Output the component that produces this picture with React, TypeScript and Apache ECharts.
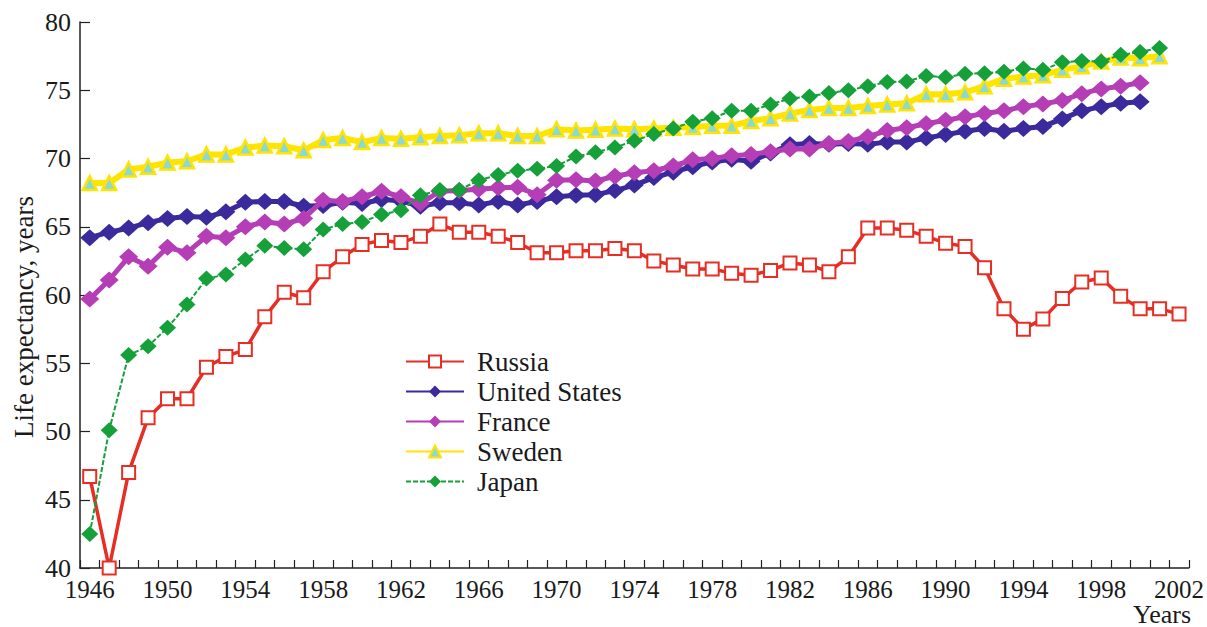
import React, { useEffect, useRef } from "react";
import * as echarts from "echarts";

const years: string[] = [];
for (let y = 1946; y <= 2002; y++) years.push(String(y));

const russia = [46.7, 40.0, 47.0, 51.0, 52.4, 52.4, 54.7, 55.5, 56.0, 58.4, 60.2, 59.8, 61.7, 62.8, 63.7, 64.0, 63.85, 64.3, 65.2, 64.6, 64.6, 64.3, 63.85, 63.1, 63.1, 63.25, 63.25, 63.4, 63.25, 62.5, 62.2, 61.9, 61.9, 61.6, 61.45, 61.8, 62.35, 62.2, 61.7, 62.8, 64.9, 64.9, 64.75, 64.3, 63.8, 63.55, 62.0, 59.0, 57.5, 58.25, 59.75, 60.95, 61.25, 59.9, 59.0, 59.0, 58.6];
const unitedStates = [64.2, 64.6, 64.9, 65.3, 65.6, 65.75, 65.7, 66.1, 66.8, 66.85, 66.85, 66.5, 66.55, 66.8, 66.7, 67.0, 66.9, 66.5, 66.75, 66.75, 66.6, 66.85, 66.6, 66.85, 67.2, 67.3, 67.35, 67.65, 68.05, 68.6, 69.0, 69.4, 69.75, 69.95, 69.8, 70.4, 71.0, 71.1, 71.05, 71.1, 71.05, 71.2, 71.2, 71.5, 71.75, 72.0, 72.2, 72.0, 72.2, 72.35, 72.9, 73.5, 73.8, 74.05, 74.15];
const france = [59.7, 61.1, 62.8, 62.1, 63.5, 63.1, 64.3, 64.2, 65.0, 65.35, 65.2, 65.6, 66.95, 66.85, 67.2, 67.6, 67.2, 66.7, 67.6, 67.65, 67.75, 67.85, 67.9, 67.35, 68.4, 68.45, 68.35, 68.7, 68.95, 69.1, 69.45, 69.9, 70.0, 70.2, 70.3, 70.5, 70.7, 70.7, 71.1, 71.25, 71.6, 72.05, 72.25, 72.55, 72.8, 73.05, 73.3, 73.5, 73.8, 74.0, 74.25, 74.75, 75.1, 75.3, 75.55];
const sweden = [68.2, 68.2, 69.2, 69.4, 69.7, 69.8, 70.3, 70.3, 70.8, 70.95, 70.9, 70.6, 71.35, 71.5, 71.2, 71.5, 71.45, 71.55, 71.65, 71.7, 71.85, 71.85, 71.65, 71.65, 72.15, 72.05, 72.1, 72.2, 72.15, 72.2, 72.25, 72.3, 72.4, 72.4, 72.75, 72.95, 73.3, 73.55, 73.7, 73.7, 73.85, 73.95, 74.05, 74.7, 74.7, 74.85, 75.3, 75.85, 76.0, 76.1, 76.5, 76.75, 77.1, 77.4, 77.35, 77.5];
const japan = [42.5, 50.1, 55.6, 56.25, 57.6, 59.3, 61.2, 61.5, 62.6, 63.6, 63.45, 63.35, 64.8, 65.2, 65.35, 65.9, 66.2, 67.3, 67.7, 67.7, 68.4, 68.8, 69.1, 69.25, 69.45, 70.15, 70.45, 70.8, 71.3, 71.8, 72.2, 72.7, 72.95, 73.5, 73.5, 73.95, 74.4, 74.55, 74.8, 75.0, 75.3, 75.6, 75.65, 76.05, 75.95, 76.2, 76.25, 76.35, 76.6, 76.5, 77.05, 77.15, 77.1, 77.6, 77.8, 78.1];

const yTicks = { min: 40, max: 80, interval: 5 };
const yName = "Life expectancy, years";
const xName = "Years";

const FONT = "'Liberation Serif', 'Times New Roman', serif";

export default function App() {
  const ref = useRef<HTMLDivElement>(null);
  useEffect(() => {
    document.body.style.margin = "0";
    const chart = echarts.init(ref.current!, null, { renderer: "svg" });
    chart.setOption({
      animation: false,
      backgroundColor: "#fff",
      grid: { left: 80, right: 14, top: 22, bottom: 59 },
      legend: {
        orient: "vertical",
        left: 405,
        top: 348,
        padding: 0,
        itemWidth: 58,
        itemHeight: 15,
        itemGap: 3,
        textStyle: { fontFamily: FONT, fontSize: 27, color: "#1a1a1a", padding: [0, 0, 0, 8] },
        data: ["Russia", "United States", "France", "Sweden", "Japan"],
      },
      xAxis: {
        type: "category",
        data: years,
        boundaryGap: true,
        axisLine: { lineStyle: { color: "#222", width: 1.5 } },
        axisTick: { show: true, inside: true, length: 8, interval: 0, lineStyle: { color: "#222", width: 1.2 } },
        axisLabel: { interval: 3, fontFamily: FONT, fontSize: 25, color: "#1a1a1a", margin: 9 },
        splitLine: { show: false },
      },
      yAxis: {
        type: "value",
        min: yTicks.min,
        max: yTicks.max,
        interval: yTicks.interval,
        axisLine: { show: true, lineStyle: { color: "#222", width: 1.5 } },
        axisTick: { show: true, inside: true, length: 10, lineStyle: { color: "#222", width: 1.2 } },
        axisLabel: { fontFamily: FONT, fontSize: 26, color: "#1a1a1a", margin: 9 },
        splitLine: { show: false },
      },
      graphic: [
        {
          type: "text",
          x: 24,
          y: 317,
          rotation: Math.PI / 2,
          style: { text: yName, fontFamily: FONT, fontSize: 27, fill: "#1a1a1a", align: "center", verticalAlign: "middle" },
        },
        {
          type: "text",
          x: 1162,
          y: 614,
          style: { text: xName, fontFamily: FONT, fontSize: 26, fill: "#1a1a1a", align: "center", verticalAlign: "middle" },
        },
      ],
      series: [
        {
          name: "Russia",
          type: "line",
          data: russia,
          symbol: "emptyRect",
          symbolSize: 13,
          showAllSymbol: true,
          lineStyle: { color: "#e62e24", width: 3.5 },
          itemStyle: { color: "#e62e24", borderColor: "#e62e24", borderWidth: 2 },
          z: 2,
        },
        {
          name: "United States",
          type: "line",
          data: unitedStates,
          symbol: "diamond",
          symbolSize: [19, 17],
          showAllSymbol: true,
          lineStyle: { color: "#3b2a9c", width: 5 },
          itemStyle: { color: "#3b2a9c" },
          z: 3,
        },
        {
          name: "France",
          type: "line",
          data: france,
          symbol: "diamond",
          symbolSize: [19, 17],
          showAllSymbol: true,
          lineStyle: { color: "#b53db5", width: 5 },
          itemStyle: { color: "#b53db5" },
          z: 4,
        },
        {
          name: "Sweden",
          type: "line",
          data: sweden,
          symbol: "triangle",
          symbolSize: 14,
          showAllSymbol: true,
          lineStyle: { color: "#ffe400", width: 6 },
          itemStyle: { color: "#8cd9d4", borderColor: "#ffe400", borderWidth: 2.5 },
          z: 5,
        },
        {
          name: "Japan",
          type: "line",
          data: japan,
          symbol: "diamond",
          symbolSize: [17, 16],
          showAllSymbol: true,
          lineStyle: { color: "#15a03a", width: 2, type: [5, 2] },
          itemStyle: { color: "#15a03a" },
          z: 6,
        },
      ],
    });
    return () => chart.dispose();
  }, []);
  return <div ref={ref} style={{ width: 1207, height: 627 }} />;
}
